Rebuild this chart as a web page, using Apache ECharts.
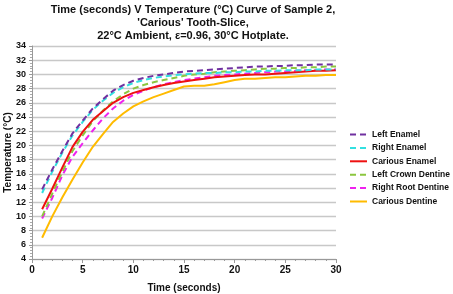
<!DOCTYPE html>
<html>
<head>
<meta charset="utf-8">
<script src="https://cdn.jsdelivr.net/npm/echarts@6/dist/echarts.min.js"></script>
<style>
  html, body { margin: 0; padding: 0; background: #fff; }
  #main { width: 453px; height: 294px; }
</style>
</head>
<body>
<div id="main"></div>
<script>
// time in seconds, 1..30
var times = [1,2,3,4,5,6,7,8,9,10,11,12,13,14,15,16,17,18,19,20,21,22,23,24,25,26,27,28,29,30];

var leftEnamel      = [13.8,16.6,19.2,21.7,23.5,25.2,26.5,27.7,28.5,29.1,29.5,29.8,30.0,30.2,30.4,30.5,30.6,30.7,30.8,30.9,31.0,31.1,31.1,31.2,31.2,31.3,31.3,31.4,31.4,31.4];
var rightEnamel     = [13.3,16.3,19.0,21.4,23.3,25.0,26.3,27.4,28.2,28.8,29.2,29.5,29.7,29.9,30.0,30.1,30.2,30.2,30.3,30.3,30.4,30.4,30.5,30.5,30.6,30.6,30.6,30.7,30.7,30.7];
var cariousEnamel   = [11.0,13.9,16.9,19.8,21.9,23.6,24.8,26.0,26.8,27.4,27.8,28.2,28.5,28.8,29.0,29.2,29.4,29.6,29.7,29.8,29.9,30.0,30.0,30.1,30.2,30.3,30.4,30.5,30.5,30.6];
var leftCrownDentine= [10.0,13.2,16.3,19.2,21.4,23.4,24.9,26.2,27.2,28.0,28.5,28.9,29.2,29.5,29.8,30.0,30.1,30.3,30.4,30.5,30.6,30.7,30.8,30.8,30.9,30.9,31.0,31.0,31.1,31.1];
var rightRootDentine= [9.7,12.6,15.8,18.4,20.3,22.1,23.8,25.2,26.3,27.1,27.7,28.2,28.6,28.9,29.2,29.4,29.6,29.8,29.9,30.0,30.1,30.2,30.3,30.4,30.4,30.5,30.6,30.6,30.7,30.7];
var cariousDentine  = [7.0,10.0,12.7,15.2,17.6,19.8,21.6,23.3,24.5,25.5,26.2,26.8,27.3,27.8,28.3,28.4,28.4,28.6,28.9,29.2,29.4,29.4,29.5,29.6,29.6,29.7,29.8,29.8,29.9,29.9];

var seriesNames = ['Left Enamel','Right Enamel','Carious Enamel','Left Crown Dentine','Right Root Dentine','Carious Dentine'];
var seriesData  = [leftEnamel, rightEnamel, cariousEnamel, leftCrownDentine, rightRootDentine, cariousDentine];
var colors      = ['#7030a0','#33e0e0','#ee1111','#8cc63f','#ee22ee','#ffbb00'];
var dashed      = [true, true, false, true, true, false];

var font = 'Liberation Sans, Arial, sans-serif';
var chart = echarts.init(document.getElementById('main'), null, { renderer: 'canvas' });

function pairs(arr) {
  var out = [];
  for (var i = 0; i < times.length; i++) out.push([times[i], arr[i]]);
  return out;
}

var series = [];
for (var i = 0; i < seriesNames.length; i++) {
  series.push({
    name: seriesNames[i],
    type: 'line',
    data: pairs(seriesData[i]),
    symbol: 'none',
    showSymbol: false,
    smooth: false,
    color: colors[i],
    lineStyle: {
      width: 2,
      color: colors[i],
      type: dashed[i] ? [6, 4] : 'solid'
    },
    z: 10 - i
  });
}

var option = {
  animation: false,
  backgroundColor: '#fff',
  title: {
    text: "Time (seconds) V Temperature (°C) Curve of Sample 2,\n'Carious' Tooth-Slice,\n22°C Ambient, ε=0.96, 30°C Hotplate.",
    left: 188,
    top: -2,
    textAlign: 'center',
    textStyle: {
      fontFamily: font,
      fontSize: 11,
      fontWeight: 'bold',
      color: '#111',
      lineHeight: 13
    }
  },
  legend: {
    orient: 'vertical',
    left: 344,
    top: 125,
    itemWidth: 17,
    itemHeight: 10,
    itemGap: 4.4,
    data: seriesNames,
    itemStyle: { opacity: 0 },
    textStyle: { fontFamily: font, fontSize: 8.5, fontWeight: 'bold', color: '#111' }
  },
  grid: {
    left: 32,
    right: 117,
    top: 46,
    bottom: 35,
    containLabel: false,
    outerBoundsMode: 'none'
  },
  xAxis: {
    type: 'value',
    min: 0,
    max: 30,
    interval: 5,
    name: 'Time (seconds)',
    nameLocation: 'middle',
    nameGap: 24,
    nameMoveOverlap: false,
    nameTextStyle: { fontFamily: font, fontSize: 10, fontWeight: 'bold', color: '#111' },
    axisLine: { lineStyle: { color: '#999' } },
    axisTick: { show: true, length: 4, lineStyle: { color: '#999' } },
    minorTick: { show: true, splitNumber: 5, length: 2, lineStyle: { color: '#999' } },
    axisLabel: { fontFamily: font, fontSize: 10, fontWeight: 'bold', color: '#111', margin: 6 },
    splitLine: { show: false }
  },
  yAxis: {
    type: 'value',
    min: 4,
    max: 34,
    interval: 2,
    name: 'Temperature (°C)',
    nameLocation: 'middle',
    nameGap: 19,
    nameMoveOverlap: false,
    nameTextStyle: { fontFamily: font, fontSize: 10, fontWeight: 'bold', color: '#111' },
    axisLine: { show: true, lineStyle: { color: '#999' } },
    axisTick: { show: true, length: 3, lineStyle: { color: '#999' } },
    minorTick: { show: true, splitNumber: 5, length: 2, lineStyle: { color: '#aaa' } },
    axisLabel: { fontFamily: font, fontSize: 9, fontWeight: 'bold', color: '#111', margin: 6 },
    splitLine: { show: true, lineStyle: { color: '#c8c8c8', width: 1.3 } }
  },
  series: series
};

chart.setOption(option);
</script>
</body>
</html>
